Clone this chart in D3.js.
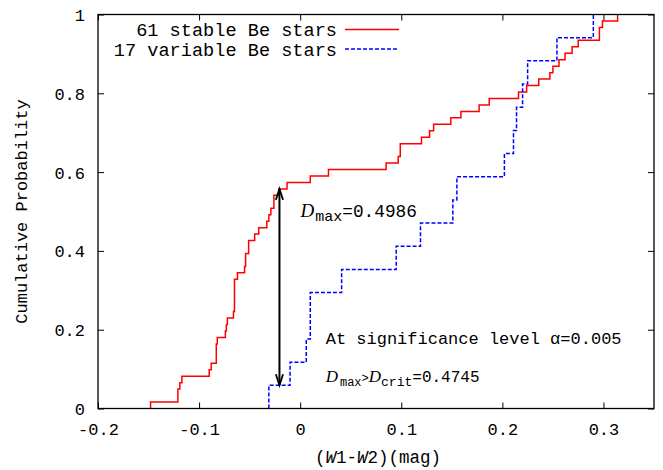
<!DOCTYPE html>
<html>
<head>
<meta charset="utf-8">
<script src="https://cdn.jsdelivr.net/npm/d3@7"></script>
<style>
  html, body { margin: 0; padding: 0; background: #fff; }
  svg { display: block; }
  text { font-family: "Liberation Mono", "DejaVu Sans Mono", monospace; fill: #000; }
</style>
</head>
<body>
<script>
// ---------- data ----------
const stableLabel = "61 stable Be stars";
const variableLabel = "17 variable Be stars";
// W1-W2 colours (mag) of each star
const stableValues = [
  -0.148, -0.121, -0.121, -0.119, -0.117, -0.090, -0.088, -0.083, -0.083, -0.083,
  -0.082, -0.074, -0.073, -0.072, -0.066, -0.065, -0.065, -0.065, -0.065, -0.065,
  -0.062, -0.055, -0.054, -0.054, -0.051, -0.051, -0.045, -0.041, -0.033, -0.031,
  -0.029, -0.026, -0.026, -0.021, -0.013, 0.010, 0.028, 0.085, 0.097, 0.099,
  0.099, 0.120, 0.128, 0.132, 0.149, 0.159, 0.177, 0.187, 0.216, 0.224,
  0.236, 0.247, 0.250, 0.256, 0.262, 0.269, 0.275, 0.296, 0.296, 0.299,
  0.314
];
const variableValues = [
  -0.031, -0.010, 0.006, 0.010, 0.010, 0.041, 0.095, 0.119, 0.151, 0.155,
  0.202, 0.211, 0.214, 0.220, 0.225, 0.254, 0.290
];
const xTicks = [-0.2, -0.1, 0, 0.1, 0.2, 0.3];
const yTicks = [0, 0.2, 0.4, 0.6, 0.8, 1];
const xDomain = [-0.2, 0.35];
const yDomain = [0, 1];
// D_max arrow: position and its two ends (cumulative probability)
const arrowX = -0.0205;
const arrowY = [1 / 17, 34 / 61];
const dMax = "0.4986";
const alphaLevel = "0.005";
const dCrit = "0.4745";

// ---------- layout ----------
const W = 663, H = 470;
const M = { left: 98, right: 654, top: 14.5, bottom: 408.5 };

const svg = d3.select("body").append("svg").attr("width", W).attr("height", H);

const x = d3.scaleLinear().domain(xDomain).range([M.left, M.right]);
const y = d3.scaleLinear().domain(yDomain).range([M.bottom, M.top]);

function ecdf(vals) {
  const s = vals.slice().sort((a, b) => a - b);
  const n = s.length;
  const pts = [[s[0], 0]];
  s.forEach((v, i) => pts.push([v, (i + 1) / n]));
  return pts;
}

const line = d3.line().x(d => x(d[0])).y(d => y(d[1])).curve(d3.curveStepAfter);

// curves
svg.append("path").datum(ecdf(stableValues))
  .attr("d", line).attr("fill", "none").attr("stroke", "#ff0000").attr("stroke-width", 1.5);
svg.append("path").datum(ecdf(variableValues))
  .attr("d", line).attr("fill", "none").attr("stroke", "#0000ff").attr("stroke-width", 1.5)
  .attr("stroke-dasharray", "4,2");

// frame & ticks
const tickLen = 6;
const axB = d3.axisBottom(x).tickValues(xTicks).tickSize(tickLen).tickFormat(d3.format("")).tickPadding(9);
const axT = d3.axisTop(x).tickValues(xTicks).tickSize(tickLen).tickFormat("");
const axL = d3.axisLeft(y).tickValues(yTicks).tickSize(tickLen).tickFormat(d3.format("")).tickPadding(10);
const axR = d3.axisRight(y).tickValues(yTicks).tickSize(tickLen).tickFormat("");

function style(g, dir) {
  g.select(".domain").remove();
  g.selectAll(".tick line").attr("stroke", "#000").attr("stroke-width", 1)
    .attr(dir === "h" ? "y2" : "x2", function () {
      const v = +d3.select(this).attr(dir === "h" ? "y2" : "x2");
      return -v; // point ticks inward
    });
  g.selectAll(".tick text").attr("font-size", 17).attr("fill", "#000")
    .attr("font-family", "Liberation Mono, monospace");
}
const gB = svg.append("g").attr("transform", `translate(0,${M.bottom})`).call(axB);
style(gB, "h");
gB.selectAll(".tick text").attr("y", 26).attr("dy", 0).text(d => d3.format("")(d).replace("−", "-"));
const gT = svg.append("g").attr("transform", `translate(0,${M.top})`).call(axT);
style(gT, "h");
const gL = svg.append("g").attr("transform", `translate(${M.left},0)`).call(axL);
style(gL, "v");
gL.selectAll(".tick text").attr("x", -13).attr("dy", "0.35em");
const gR = svg.append("g").attr("transform", `translate(${M.right},0)`).call(axR);
style(gR, "v");

svg.append("rect").attr("x", M.left).attr("y", M.top)
  .attr("width", M.right - M.left).attr("height", M.bottom - M.top)
  .attr("fill", "none").attr("stroke", "#000").attr("stroke-width", 1.3);

// axis titles
const xt = svg.append("text").attr("x", (M.left + M.right) / 2 + 2).attr("y", 463)
  .attr("text-anchor", "middle").attr("font-size", 17.5);
xt.append("tspan").text("(");
xt.append("tspan").attr("font-style", "italic").text("W");
xt.append("tspan").text("1-");
xt.append("tspan").attr("font-style", "italic").text("W");
xt.append("tspan").text("2)(mag)");

svg.append("text").attr("transform", `translate(27,${(M.top + M.bottom) / 2}) rotate(-90)`)
  .attr("text-anchor", "middle").attr("font-size", 17).text("Cumulative Probability");

// legend
const legend = [
  { label: stableLabel, color: "#ff0000", dash: null },
  { label: variableLabel, color: "#0000ff", dash: "4,2" }
];
legend.forEach((d, i) => {
  const yy = 29.5 + i * 19.5;
  svg.append("text").attr("x", 337).attr("y", yy).attr("dy", "0.35em")
    .attr("text-anchor", "end").attr("font-size", 18.6).text(d.label);
  svg.append("line").attr("x1", 345).attr("x2", 399).attr("y1", yy).attr("y2", yy)
    .attr("stroke", d.color).attr("stroke-width", 1.5)
    .attr("stroke-dasharray", d.dash);
});

// D_max arrow
const ax = x(arrowX), ay0 = y(arrowY[0]), ay1 = y(arrowY[1]);
svg.append("line").attr("x1", ax).attr("x2", ax).attr("y1", ay0).attr("y2", ay1)
  .attr("stroke", "#000").attr("stroke-width", 2);
const hl = 11, hw = 3.6;
svg.append("path")
  .attr("d", `M${ax - hw},${ay1 + hl}L${ax},${ay1}L${ax + hw},${ay1 + hl}` +
             `M${ax - hw},${ay0 - hl}L${ax},${ay0}L${ax + hw},${ay0 - hl}`)
  .attr("fill", "none").attr("stroke", "#000").attr("stroke-width", 1.8);

// annotations
const t1 = svg.append("text").attr("x", 300.5).attr("y", 216.5).attr("font-size", 17.8);
t1.append("tspan").attr("font-family", "Liberation Serif, serif").attr("font-style", "italic")
  .attr("font-size", 19).text("D");
t1.append("tspan").attr("font-size", 15).attr("dy", 4).attr("dx", 1).text("max");
t1.append("tspan").attr("dy", -4).text("=" + dMax);

svg.append("text").attr("x", 325.7).attr("y", 344).attr("font-size", 17)
  .text("At significance level α=" + alphaLevel);

const t2 = svg.append("text").attr("x", 325.7).attr("y", 381.5).attr("font-size", 16);
t2.append("tspan").attr("font-family", "Liberation Serif, serif").attr("font-style", "italic")
  .attr("font-size", 17).text("D");
t2.append("tspan").attr("font-size", 12).attr("dy", 4).attr("dx", 2).text("max");
t2.append("tspan").attr("font-size", 12).attr("dy", -4).text(">");
t2.append("tspan").attr("font-family", "Liberation Serif, serif").attr("font-style", "italic")
  .attr("font-size", 17).text("D");
t2.append("tspan").attr("font-size", 13).attr("dy", 4).text("crit");
t2.append("tspan").attr("dy", -4).text("=" + dCrit);
</script>
</body>
</html>
